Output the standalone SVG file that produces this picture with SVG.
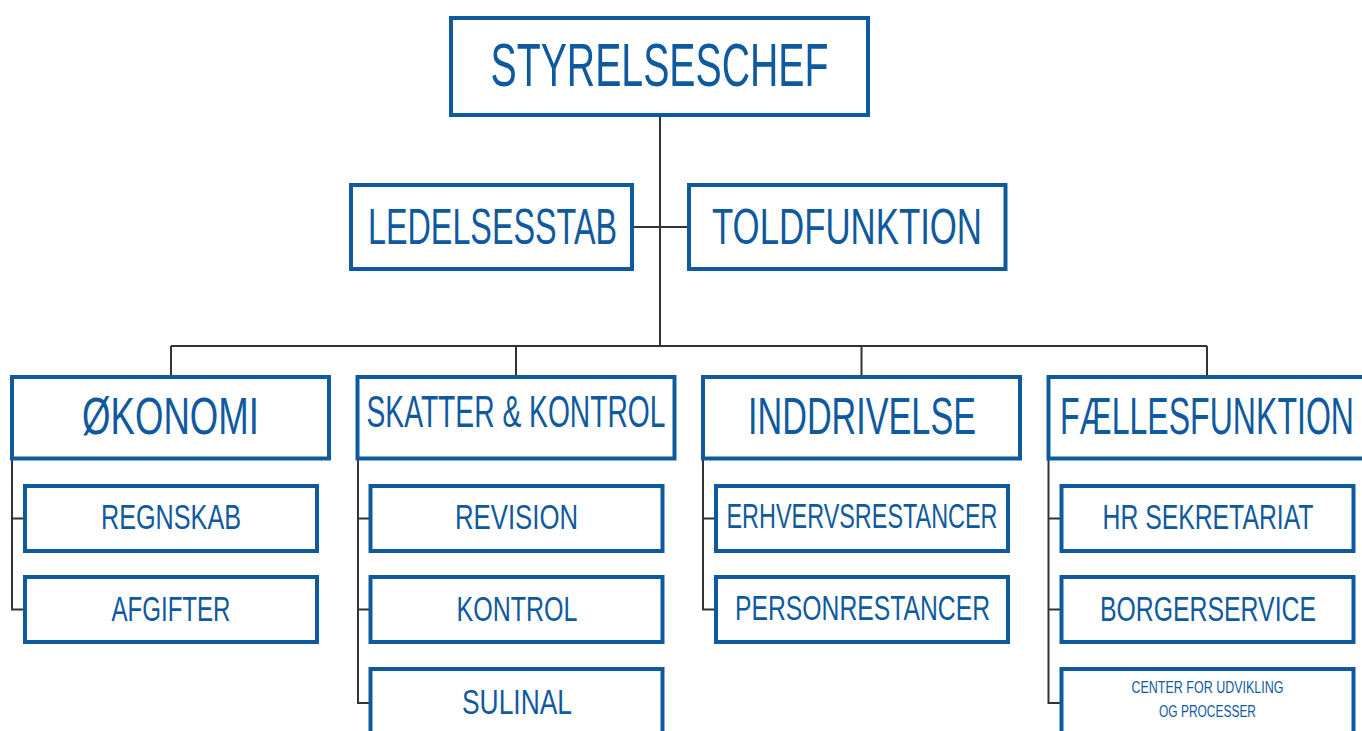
<svg xmlns="http://www.w3.org/2000/svg" width="1362" height="731" viewBox="0 0 1362 731">
<style>
.box{fill:#fff;stroke:#0f5a9e;stroke-width:4}
.t{fill:#0f5a9e;font-family:"Liberation Sans Narrow","Liberation Sans",Arial,sans-serif;text-anchor:middle}
.conn{fill:none;stroke:#333;stroke-width:2}
</style>
<rect width="1362" height="731" fill="#fff"/>
<g id="connectors" class="conn">
<path d="M660 115V346M632 227H689M171 346H1207M171 346V377M516 346V377M861.5 346V377M1207 346V377"/>
<path d="M12 458V609.5H25M12 518.5H25"/>
<path d="M358 458V703H370.5M358 518.5H370.5M358 609.5H370.5"/>
<path d="M703 458V609.5H716M703 518.5H716"/>
<path d="M1048.5 458V703H1061.5M1048.5 518.5H1061.5M1048.5 609.5H1061.5"/>
</g>
<g id="styrelseschef"><rect class="box" x="451" y="18" width="417" height="97"/><text class="t" x="659.5" y="86" font-size="61" textLength="338" lengthAdjust="spacingAndGlyphs">STYRELSESCHEF</text></g>
<g id="ledelsesstab"><rect class="box" x="351" y="185" width="281" height="84"/><text class="t" x="492.5" y="244" font-size="50" textLength="249" lengthAdjust="spacingAndGlyphs">LEDELSESSTAB</text></g>
<g id="toldfunktion"><rect class="box" x="689" y="185" width="316.5" height="84"/><text class="t" x="847" y="244" font-size="50" textLength="270" lengthAdjust="spacingAndGlyphs">TOLDFUNKTION</text></g>
<g id="okonomi"><rect class="box" x="12" y="377" width="317" height="81.5"/><text class="t" x="170.5" y="434" font-size="52" textLength="177" lengthAdjust="spacingAndGlyphs">ØKONOMI</text></g>
<g id="skatter"><rect class="box" x="357.5" y="377" width="317" height="81.5"/><text class="t" x="516" y="427" font-size="45" textLength="299" lengthAdjust="spacingAndGlyphs">SKATTER &amp; KONTROL</text></g>
<g id="inddrivelse"><rect class="box" x="703" y="377" width="317" height="81.5"/><text class="t" x="862" y="434" font-size="52" textLength="228" lengthAdjust="spacingAndGlyphs">INDDRIVELSE</text></g>
<g id="faellesfunktion"><rect class="box" x="1048.5" y="377" width="317" height="81.5"/><text class="t" x="1207" y="434" font-size="52" textLength="294" lengthAdjust="spacingAndGlyphs">FÆLLESFUNKTION</text></g>
<g id="regnskab"><rect class="box" x="25" y="486" width="292" height="65"/><text class="t" x="171" y="529" font-size="35" textLength="140" lengthAdjust="spacingAndGlyphs">REGNSKAB</text></g>
<g id="afgifter"><rect class="box" x="25" y="577" width="292" height="65"/><text class="t" x="171" y="621" font-size="35" textLength="119" lengthAdjust="spacingAndGlyphs">AFGIFTER</text></g>
<g id="revision"><rect class="box" x="370.5" y="486" width="292" height="65"/><text class="t" x="516.5" y="529" font-size="35" textLength="123" lengthAdjust="spacingAndGlyphs">REVISION</text></g>
<g id="kontrol"><rect class="box" x="370.5" y="577" width="292" height="65"/><text class="t" x="517" y="621" font-size="35" textLength="121" lengthAdjust="spacingAndGlyphs">KONTROL</text></g>
<g id="sulinal"><rect class="box" x="370.5" y="669" width="292" height="80"/><text class="t" x="517" y="714" font-size="35" textLength="110" lengthAdjust="spacingAndGlyphs">SULINAL</text></g>
<g id="erhvervsrestancer"><rect class="box" x="716" y="486" width="292" height="65"/><text class="t" x="862" y="528" font-size="35" textLength="271" lengthAdjust="spacingAndGlyphs">ERHVERVSRESTANCER</text></g>
<g id="personrestancer"><rect class="box" x="716" y="577" width="292" height="65"/><text class="t" x="862.5" y="620" font-size="35" textLength="255" lengthAdjust="spacingAndGlyphs">PERSONRESTANCER</text></g>
<g id="hrsekretariat"><rect class="box" x="1061.5" y="486" width="292" height="65"/><text class="t" x="1208" y="529" font-size="35" textLength="211" lengthAdjust="spacingAndGlyphs">HR SEKRETARIAT</text></g>
<g id="borgerservice"><rect class="box" x="1061.5" y="577" width="292" height="65"/><text class="t" x="1208" y="621" font-size="35" textLength="216" lengthAdjust="spacingAndGlyphs">BORGERSERVICE</text></g>
<g id="center"><rect class="box" x="1061.5" y="669" width="292" height="80"/><text class="t" x="1207.5" y="693" font-size="16" textLength="152" lengthAdjust="spacingAndGlyphs">CENTER FOR UDVIKLING</text><text class="t" x="1207.5" y="717" font-size="16" textLength="97" lengthAdjust="spacingAndGlyphs">OG PROCESSER</text></g>
</svg>
